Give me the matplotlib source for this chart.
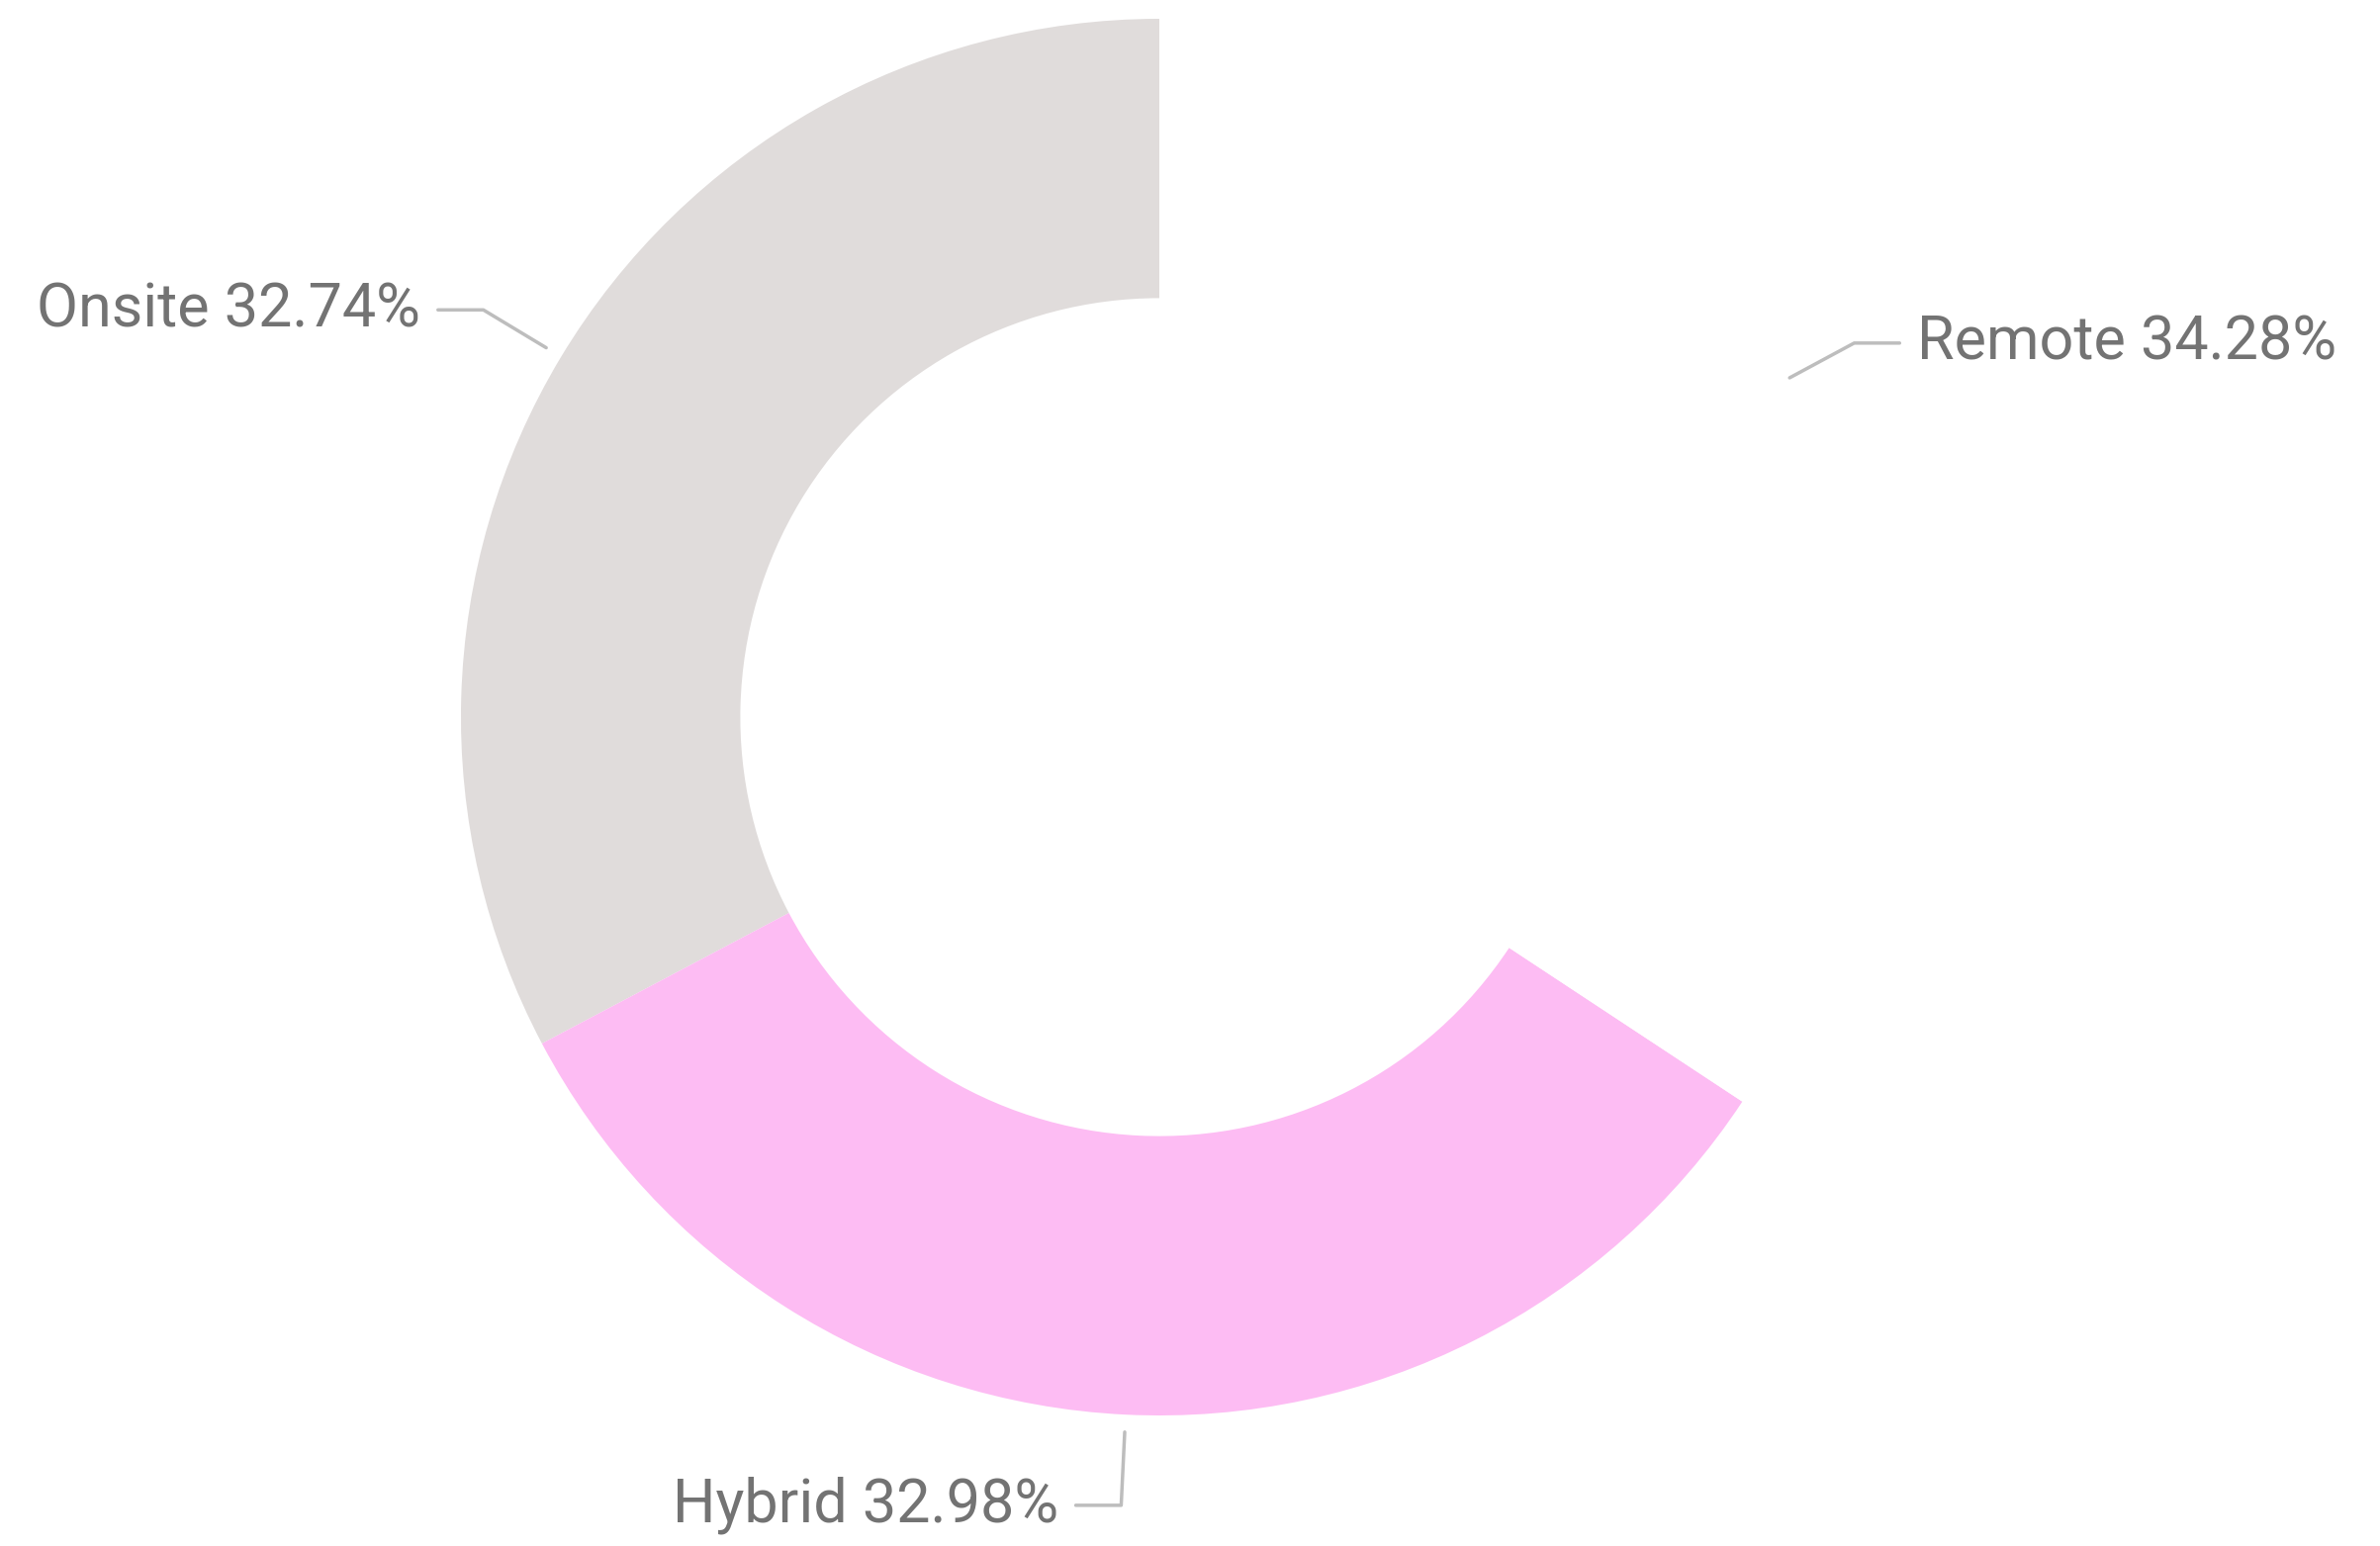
import numpy as np
import matplotlib.pyplot as plt

labels = ['Onsite', 'Hybrid', 'Remote']
shares = [32.74, 32.98, 34.28]
colors = ['#e0dcdb', '#fdbcf3', '#ffffff']

W, H = 2406, 1563
cx, cy, R = 1172, 725, 706  # pixel centre and outer radius

fig = plt.figure(figsize=(W / 100, H / 100), dpi=100)
ax = fig.add_axes([0, 0, 1, 1])
ax.axis('off')

wedges, _ = ax.pie(shares, colors=colors, startangle=90, counterclock=True,
                   radius=1, wedgeprops=dict(width=0.4, linewidth=0))
ax.set_xlim(-cx / R, (W - cx) / R)
ax.set_ylim(-(H - cy) / R, cy / R)
ax.set_aspect('auto')

for w, lab, val in zip(wedges, labels, shares):
    mid = np.deg2rad((w.theta1 + w.theta2) / 2)
    x0, y0 = 1.025 * np.cos(mid), 1.025 * np.sin(mid)
    x1, y1 = 1.13 * np.cos(mid), 1.13 * np.sin(mid)
    side = 1 if np.cos(mid) >= 0 else -1
    x2 = x1 + side * 0.065
    ax.plot([x0, x1, x2], [y0, y1, y1], color='#bdbdbd', lw=2.5,
            solid_capstyle='round')
    ax.text(x2 + side * 0.025, y1, f'{lab} {val:.2f}%',
            ha='left' if side > 0 else 'right', va='center',
            fontsize=44, color='#737373', family='Roboto')

fig.savefig('out.png', dpi=100)
